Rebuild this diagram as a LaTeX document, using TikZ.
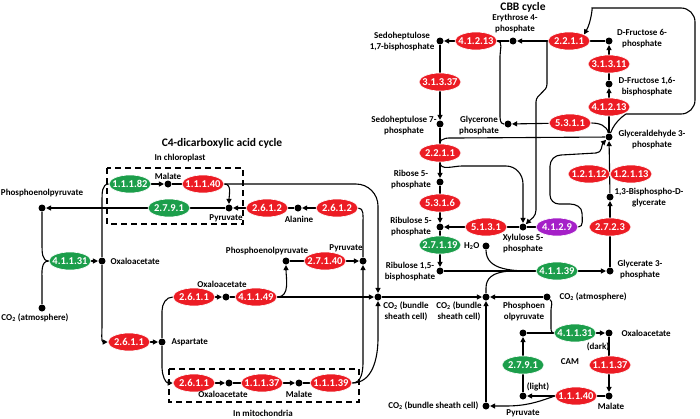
\documentclass[tikz,border=0pt]{standalone}
\usepackage{fontspec}
\setmainfont{Carlito}
\usetikzlibrary{shapes.geometric,arrows.meta}
\pgfdeclarelayer{bg}
\pgfsetlayers{bg,main}
\definecolor{ered}{RGB}{236,28,36}
\definecolor{egreen}{RGB}{28,158,75}
\definecolor{epurple}{RGB}{165,32,200}
\newcommand{\ez}[1]{\makebox[0pt]{#1}}
\newcommand{\cotwo}{CO\textsubscript{2}}
\tikzset{
  enz/.style={ellipse, minimum width=42pt, minimum height=18pt, inner sep=0pt, draw=white, line width=0.6pt, text=white, font=\bfseries\fontsize{10.5}{10}\selectfont},
  re/.style={enz, fill=ered},
  ge/.style={enz, fill=egreen},
  pe/.style={enz, fill=epurple},
  dotn/.style={circle, fill=black, inner sep=0pt, minimum size=7pt},
  lbl/.style={font=\bfseries\fontsize{9}{11}\selectfont, align=center, inner sep=0pt},
  arr/.style={-{Triangle[length=5pt,width=5pt]}},
  dbox/.style={dash pattern=on 6pt off 4pt, line width=1.1pt},
  ttl/.style={font=\bfseries\fontsize{11.5}{13}\selectfont, inner sep=0pt},
  conn/.style={line width=1.1pt, draw=black},
}
\begin{document}
\begin{tikzpicture}[x=1pt,y=-1pt,line width=1.1pt]
\useasboundingbox (0,0) rectangle (700,418);
% ---------- titles & boxes
\node[ttl] (tC4) at (222,143) {C4-dicarboxylic acid cycle};
\node[ttl] (tCBB) at (523,7) {CBB cycle};
\node[lbl] (tChl) at (180,158) {In chloroplast};
\node[lbl] (tMit) at (263,413) {In mitochondria};
\draw[dbox] (107,168) rectangle (243,224);
\draw[dbox] (169,369) rectangle (359,402);
% ---------- C4 nodes
\node[ge] (e11182) at (130,184) {\ez{1.1.1.82}};
\node[dotn] (malC) at (168,184) {};
\node[lbl] (lmalC) at (168,176) {Malate};
\node[re] (e11140a) at (203,184) {\ez{1.1.1.40}};
\node[dotn] (pyrC) at (229,208) {};
\node[lbl] (lpyrC) at (226,218) {Pyruvate};
\node[ge] (e2791a) at (169,208) {\ez{2.7.9.1}};
\node[dotn] (pepL) at (42,208) {};
\node[lbl] (lpepL) at (42,193) {Phosphoenolpyruvate};
\node[ge] (e41131a) at (70,261) {\ez{4.1.1.31}};
\node[dotn] (oaaL) at (102,261) {};
\node[lbl,anchor=west] (loaaL) at (110,261) {Oxaloacetate};
\node[dotn] (co2L) at (42,308) {};
\node[lbl] (lco2L) at (35,318) {\cotwo{} (atmosphere)};
\node[re] (e2611a) at (129,342) {\ez{2.6.1.1}};
\node[dotn] (asp) at (162,342) {};
\node[lbl,anchor=west] (lasp) at (171,342) {Aspartate};
\node[re] (e2611b) at (194,297) {\ez{2.6.1.1}};
\node[dotn] (oaaM) at (226,297) {};
\node[lbl] (loaaM) at (222,284) {Oxaloacetate};
\node[re] (e41149) at (256,297) {\ez{4.1.1.49}};
\node[dotn] (pepM) at (286,261) {};
\node[lbl] (lpepM) at (267,251) {Phosphoenolpyruvate};
\node[re] (e27140) at (325,261) {\ez{2.7.1.40}};
\node[dotn] (pyrM) at (363,261) {};
\node[lbl] (lpyrM) at (346,248) {Pyruvate};
\node[re] (e2612a) at (267,208) {\ez{2.6.1.2}};
\node[dotn] (ala) at (298,208) {};
\node[lbl] (lala) at (299,219) {Alanine};
\node[re] (e2612b) at (337,208) {\ez{2.6.1.2}};
\node[dotn] (co2a) at (378,297) {};
\node[lbl] (lco2a) at (406,311) {\cotwo{} (bundle\\sheath cell)};
\node[re] (e2611c) at (194,383) {\ez{2.6.1.1}};
\node[dotn] (oaaX) at (229,383) {};
\node[lbl] (loaaX) at (223,394) {Oxaloacetate};
\node[re] (e11137a) at (262,383) {\ez{1.1.1.37}};
\node[dotn] (malX) at (299,383) {};
\node[lbl] (lmalX) at (299,394) {Malate};
\node[re] (e11139) at (331,383) {\ez{1.1.1.39}};
% ---------- CBB nodes
\node[dotn] (ery) at (513,41) {};
\node[lbl] (lery) at (515,24) {Erythrose 4-\\phosphate};
\node[re] (e41213a) at (476,41) {\ez{4.1.2.13}};
\node[dotn] (sbp) at (440,41) {};
\node[lbl] (lsbp) at (402,42) {Sedoheptulose\\1,7-bisphosphate};
\node[re] (e31337) at (440,82) {\ez{3.1.3.37}};
\node[dotn] (s7p) at (440,124) {};
\node[lbl] (ls7p) at (404,126) {Sedoheptulose 7-\\phosphate};
\node[dotn] (gly) at (508,124) {};
\node[lbl] (lgly) at (479,126) {Glycerone\\phosphate};
\node[re] (e2211a) at (569,41) {\ez{2.2.1.1}};
\node[dotn] (f6p) at (609,41) {};
\node[lbl] (lf6p) at (642,39) {D-Fructose 6-\\phosphate};
\node[re] (e31311) at (609,64) {\ez{3.1.3.11}};
\node[dotn] (fbp) at (609,84) {};
\node[lbl] (lfbp) at (647,87) {D-Fructose 1,6-\\bisphosphate};
\node[re] (e41213b) at (609,107) {\ez{4.1.2.13}};
\node[dotn] (g3p) at (609,137) {};
\node[lbl] (lg3p) at (652,140) {Glyceraldehyde 3-\\phosphate};
\node[re] (e5311) at (570,123) {\ez{5.3.1.1}};
\node[re] (e2211b) at (440,153) {\ez{2.2.1.1}};
\node[dotn] (r5p) at (440,182) {};
\node[lbl] (lr5p) at (411,180) {Ribose 5-\\phosphate};
\node[re] (e5316) at (440,203) {\ez{5.3.1.6}};
\node[dotn] (ru5p) at (440,227) {};
\node[lbl] (lru5p) at (411,227) {Ribulose 5-\\phosphate};
\node[re] (e5131) at (486,227) {\ez{5.1.3.1}};
\node[dotn] (xyl) at (523,227) {};
\node[lbl] (lxyl) at (523,244) {Xylulose 5-\\phosphate};
\node[pe] (e4129) at (557,227) {\ez{4.1.2.9}};
\node[ge] (e27119) at (440,245) {\ez{2.7.1.19}};
\node[dotn] (rubp) at (440,271) {};
\node[lbl] (lrubp) at (410,272) {Ribulose 1,5-\\bisphosphate};
\node[dotn] (h2o) at (486,246) {};
\node[lbl,anchor=east] (lh2o) at (480,246) {H\textsubscript{2}O};
\node[ge] (e41139) at (557,271) {\ez{4.1.1.39}};
\node[dotn] (g3pa) at (610,271) {};
\node[lbl] (lg3pa) at (640,270) {Glycerate 3-\\phosphate};
\node[re] (e2723) at (610,227) {\ez{2.7.2.3}};
\node[dotn] (bpg) at (610,197) {};
\node[lbl] (lbpg) at (649,198) {1,3-Bisphospho-D-\\glycerate};
\node[re] (e12112) at (589,174) {\ez{1.2.1.12}};
\node[re] (e12113) at (631,174) {\ez{1.2.1.13}};
% ---------- CAM nodes
\node[dotn] (co2b) at (486,297) {};
\node[lbl] (lco2b) at (459,311) {\cotwo{} (bundle\\sheath cell)};
\node[dotn] (co2atm) at (547,297) {};
\node[lbl,anchor=west] (lco2atm) at (559,297) {\cotwo{} (atmosphere)};
\node[lbl] (lpepC) at (524,312) {Phosphoen\\olpyruvate};
\node[dotn] (pepC) at (523,333) {};
\node[ge] (e41131b) at (575,333) {\ez{4.1.1.31}};
\node[dotn] (oaaC) at (609,333) {};
\node[lbl,anchor=west] (loaaC) at (621,333) {Oxaloacetate};
\node[lbl] (ldark) at (598,347) {(dark)};
\node[lbl] (lcam) at (570,362) {CAM};
\node[re] (e11137b) at (610,365) {\ez{1.1.1.37}};
\node[dotn] (malC2) at (609,396) {};
\node[lbl] (lmalC2) at (611,406) {Malate};
\node[re] (e11140b) at (576,396) {\ez{1.1.1.40}};
\node[dotn] (pyrC2) at (523,396) {};
\node[lbl] (lpyrC2) at (523,413) {Pyruvate};
\node[lbl] (llight) at (538,387) {(light)};
\node[ge] (e2791b) at (523,365) {\ez{2.7.9.1}};
\node[dotn] (co2c) at (486,406) {};
\node[lbl,anchor=east] (lco2c) at (479,406) {\cotwo{} (bundle sheath cell)};
% helper coordinates
\coordinate (b1) at (547,41);
% ---------- connectors
\begin{pgfonlayer}{bg}
\begin{scope}[line width=1.1pt, every path/.append style={line width=1.1pt}]
% C4
\draw[arr] (e11182) -- (malC);
\draw (malC) -- (e11140a);
\draw[arr] (e11140a.east) to[out=0,in=90] (pyrC);
\draw[arr, rounded corners=22pt] (e11140a.east) -- (378,184) -- (co2a);
\draw[arr] (pyrC) -- (pepL);
\draw[arr] (ala) -- (pyrC);
\draw[arr] (e2612b) -- (ala);
\draw (pyrM) -- (363,222) to[out=90,in=0] (e2612b.east);
\draw[arr] (e41131a) -- (oaaL);
\draw (pepL) -- (42,245) to[out=-90,in=180] (e41131a.west);
\draw (co2L) -- (42,280) to[out=90,in=180] (e41131a.west);
\draw (e11182.west) to[out=180,in=90] (102,200) -- (oaaL);
\draw[arr] (oaaL) -- (102,326) to[out=-90,in=180] (e2611a.west);
\draw[arr] (e2611a) -- (asp);
\draw (asp) -- (162,311) to[out=90,in=180] (e2611b.west);
\draw[arr] (asp) -- (162,368) to[out=-90,in=180] (e2611c.west);
\draw[arr] (e2611b) -- (oaaM);
\draw (oaaM) -- (e41149);
\draw[arr] (e41149.east) -- (co2a);
\draw[arr] (e41149.east) to[out=0,in=-90] (pepM);
\draw[arr] (pepM) -- (pyrM);
\draw[arr] (e2611c) -- (oaaX);
\draw (oaaX) -- (e11137a);
\draw[arr] (e11137a) -- (malX);
\draw (malX) -- (e11139);
\draw[arr] (e11139.east) to[out=0,in=-90] (363,362) -- (pyrM);
\draw[arr] (e11139.east) to[out=0,in=-90] (378,338) -- (co2a);
\draw[arr] (co2a) -- (co2b);
% CBB
\draw[arr] (ery) -- (sbp);
\draw[arr] (f6p) -- (ery);
\draw (e41213a.east) to[out=0,in=90] (500,56) -- (500,114) to[out=-90,in=180] (gly);
\draw[arr] (sbp) -- (s7p);
\draw (s7p) -- (e2211b);
\draw (g3p) -- (456,138) to[out=180,in=90] (e2211b.north);
\draw[arr] (e2211b) -- (r5p);
\draw[arr] (r5p) -- (ru5p);
\draw[arr] (e2211b.south) to[out=-90,in=180] (462,166) -- (506,166) to[out=0,in=90] (523,184) -- (xyl);
\draw[arr] (b1) -- (547,84) to[out=-90,in=90] (536,102) -- (536,210) to[out=-90,in=45] (xyl);
\draw[arr] (g3p) -- (fbp);
\draw[arr] (fbp) -- (f6p);
\draw (g3p) to[out=100,in=0] (e5311.east);
\draw[arr] (e5311) -- (gly);
\draw[arr, rounded corners=14pt] (g3p) to[out=70,in=180] (640,114) -- (695,114) -- (695,8) -- (606,8) to[out=180,in=60] (e2211a.north east);
\draw[arr] (e4129.east) to[out=0,in=-90] (582,213) to[out=90,in=0] (570,204) -- (559,204) to[out=180,in=-90] (550,195) -- (550,166) to[out=90,in=180] (561,155) -- (596,153) to[out=0,in=-135] (g3p);
\draw (xyl) -- (e4129);
\draw[arr] (xyl) -- (ru5p);
\draw[arr] (ru5p) -- (rubp);
\draw[arr] (rubp) -- (g3pa);
\draw (h2o) to[out=-90,in=180] (e41139.west);
\draw (co2b) -- (486,288) to[out=90,in=180] (e41139.west);
\draw[arr] (g3pa) -- (bpg);
\draw[arr] (bpg) -- (g3p);
% CAM
\draw[arr] (co2atm) -- (co2b);
\draw (co2atm) to[out=-40,in=90] (551,310) -- (551,325) to[out=-90,in=180] (e41131b.west);
\draw[arr] (pepC) -- (oaaC);
\draw[arr] (oaaC) -- (malC2);
\draw[arr] (malC2) -- (pyrC2);
\draw[arr] (e11140b.west) to[out=200,in=0] (505,406) -- (co2c);
\draw[arr] (pyrC2) -- (pepC);
\draw[arr] (co2c) -- (co2b);
\end{scope}
\end{pgfonlayer}
\end{tikzpicture}
\end{document}
